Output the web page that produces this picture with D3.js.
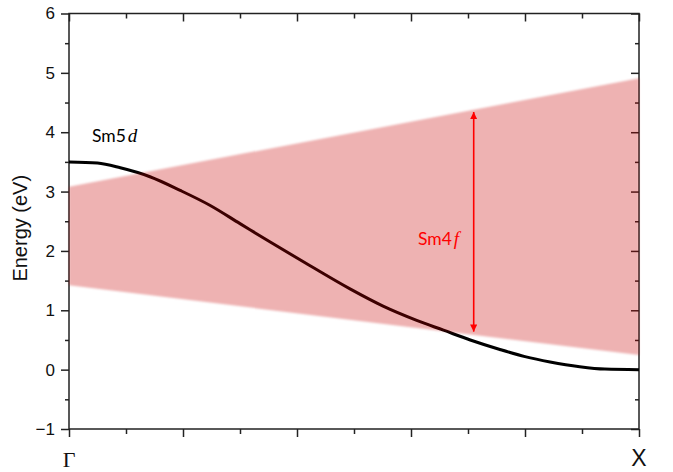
<!DOCTYPE html>
<html>
<head>
<meta charset="utf-8">
<script src="https://cdn.jsdelivr.net/npm/d3@7"></script>
<style>
  html, body { margin: 0; padding: 0; background: #fff; }
  svg { display: block; }
</style>
</head>
<body>
<svg id="chart" width="673" height="472"></svg>
<script>
// ---- data ----
const kPath = [0, 0.05, 0.09, 0.142, 0.195, 0.247, 0.30, 0.353, 0.423, 0.493, 0.551, 0.61, 0.657, 0.704, 0.756, 0.80, 0.844, 0.896, 0.94, 1.0];
const sm5dEnergy = [3.50, 3.48, 3.40, 3.25, 3.02, 2.77, 2.46, 2.15, 1.75, 1.36, 1.07, 0.83, 0.665, 0.50, 0.34, 0.22, 0.13, 0.05, 0.01, 0.00];
const bandK = [0, 1];
const bandTop = [3.08, 4.91];
const bandBottom = [1.42, 0.245];
const arrowK = 0.71;
const arrowRange = [4.34, 0.64];
const yTicks = [-1, 0, 1, 2, 3, 4, 5, 6];
const yMinorTicks = [-0.5, 0.5, 1.5, 2.5, 3.5, 4.5, 5.5];
const xTicks = [0, 0.2, 0.4, 0.6, 0.8, 1.0];
const xMinorTicks = [0.1, 0.3, 0.5, 0.7, 0.9];
const kLabels = [{k: 0, text: "Γ"}, {k: 1, text: "X"}];
const yTitle = "Energy (eV)";

// ---- layout ----
const svg = d3.select("#chart");
const L = 69, R = 639, T = 13.5, B = 429;
const x = d3.scaleLinear().domain([0, 1]).range([L, R]);
const y = d3.scaleLinear().domain([-1, 6]).range([B, T]);

const axisColor = "#222";
function styleAxis(g) {
  g.selectAll(".domain").remove();
  g.selectAll(".tick line").attr("stroke", axisColor).attr("stroke-width", 1.5);
  g.selectAll(".tick text").attr("font-family", "Liberation Sans, Arial, sans-serif")
    .attr("font-size", 17).attr("fill", "#111");
}

// left axis (outward)
svg.append("g").attr("transform", `translate(${L},0)`)
  .call(d3.axisLeft(y).tickValues(yTicks).tickSize(8).tickPadding(6).tickFormat(d3.format("d")))
  .call(styleAxis);
svg.append("g").attr("transform", `translate(${L},0)`)
  .call(d3.axisLeft(y).tickValues(yMinorTicks).tickSize(4).tickFormat(""))
  .call(styleAxis);
// right axis (inward)
svg.append("g").attr("transform", `translate(${R},0)`)
  .call(d3.axisLeft(y).tickValues(yTicks).tickSize(8).tickFormat(""))
  .call(styleAxis);
svg.append("g").attr("transform", `translate(${R},0)`)
  .call(d3.axisLeft(y).tickValues(yMinorTicks).tickSize(4).tickFormat(""))
  .call(styleAxis);
// bottom axis (outward)
svg.append("g").attr("transform", `translate(0,${B})`)
  .call(d3.axisBottom(x).tickValues(xTicks).tickSize(8).tickFormat(""))
  .call(styleAxis);
svg.append("g").attr("transform", `translate(0,${B})`)
  .call(d3.axisBottom(x).tickValues(xMinorTicks).tickSize(5).tickFormat(""))
  .call(styleAxis);
// top axis (inward)
svg.append("g").attr("transform", `translate(0,${T})`)
  .call(d3.axisBottom(x).tickValues(xTicks).tickSize(8).tickFormat(""))
  .call(styleAxis);
svg.append("g").attr("transform", `translate(0,${T})`)
  .call(d3.axisBottom(x).tickValues(xMinorTicks).tickSize(5).tickFormat(""))
  .call(styleAxis);

// frame
svg.append("rect").attr("x", L).attr("y", T).attr("width", R - L).attr("height", B - T)
  .attr("fill", "none").attr("stroke", axisColor).attr("stroke-width", 1.5);

// Sm5d curve
const curveData = kPath.map((k, i) => [k, sm5dEnergy[i]]);
svg.append("path").datum(curveData)
  .attr("d", d3.line().x(d => x(d[0])).y(d => y(d[1])).curve(d3.curveMonotoneX))
  .attr("fill", "none").attr("stroke", "#000").attr("stroke-width", 3);

// band (translucent red over everything)
const defs = svg.append("defs");
defs.append("filter").attr("id", "soft").attr("x", "-5%").attr("y", "-5%").attr("width", "110%").attr("height", "110%")
  .append("feGaussianBlur").attr("stdDeviation", 0.8);
const bandData = bandK.map((k, i) => ({k, top: bandTop[i], bot: bandBottom[i]}));
svg.append("path").datum(bandData)
  .attr("d", d3.area().x(d => x(d.k)).y0(d => y(d.bot)).y1(d => y(d.top)))
  .attr("fill", "rgb(200,0,0)").attr("fill-opacity", 0.3).attr("filter", "url(#soft)");

// arrow
defs.append("marker").attr("id", "ah").attr("viewBox", "0 0 10 10").attr("refX", 10).attr("refY", 5)
  .attr("markerWidth", 4.5).attr("markerHeight", 4.5).attr("orient", "auto-start-reverse")
  .append("path").attr("d", "M0,0 L10,5 L0,10 z").attr("fill", "#ff0000");
svg.append("line")
  .attr("x1", x(arrowK)).attr("x2", x(arrowK))
  .attr("y1", y(arrowRange[0])).attr("y2", y(arrowRange[1]))
  .attr("stroke", "#ff0000").attr("stroke-width", 1.6)
  .attr("marker-start", "url(#ah)").attr("marker-end", "url(#ah)");

// labels
function orbitalLabel(px, py, base, italic, color) {
  const t = svg.append("text").attr("x", px).attr("y", py).attr("fill", color)
    .attr("font-family", "Lato, 'Open Sans', sans-serif").attr("font-size", 17.5);
  t.append("tspan").text(base);
  t.append("tspan").attr("font-family", "'Liberation Serif', 'DejaVu Serif', serif")
    .attr("font-style", "italic").attr("font-size", 19).attr("dx", 2).text(italic);
}
orbitalLabel(92, 142, "Sm5", "d", "#000");
orbitalLabel(418, 245, "Sm4", "f", "#ff0000");

// k-point labels
svg.append("text").attr("x", x(kLabels[0].k)).attr("y", 467).attr("text-anchor", "middle")
  .attr("font-family", "'Liberation Serif', 'Times New Roman', serif").attr("font-size", 22)
  .attr("fill", "#111").text(kLabels[0].text);
svg.append("text").attr("x", x(kLabels[1].k)).attr("y", 466).attr("text-anchor", "middle")
  .attr("font-family", "'Liberation Sans', Arial, sans-serif").attr("font-size", 23)
  .attr("fill", "#111").text(kLabels[1].text);

// y title
svg.append("text").attr("transform", `translate(27,${(T + B) / 2 + 7}) rotate(-90)`)
  .attr("text-anchor", "middle")
  .attr("font-family", "'Liberation Sans', Arial, sans-serif").attr("font-size", 20)
  .attr("fill", "#111").text(yTitle);
</script>
</body>
</html>
